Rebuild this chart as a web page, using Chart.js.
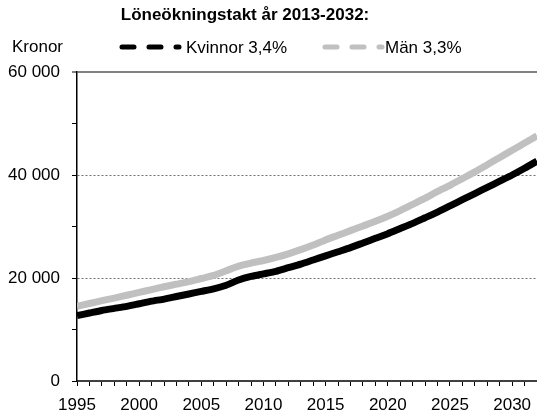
<!DOCTYPE html>
<html>
<head>
<meta charset="utf-8">
<script src="https://cdn.jsdelivr.net/npm/chart.js@4.4.1/dist/chart.umd.min.js"></script>
<style>
    html, body { margin: 0; padding: 0; background: #fff; }
    #wrap { width: 537px; height: 417px; position: relative; }
</style>
</head>
<body>
<div id="wrap"><canvas id="salaryChart"></canvas></div>
<script>
// Data
const years = [];
for (let y = 1995; y <= 2032; y++) years.push(y);

const kvinnor = [12700, 13200, 13700, 14100, 14500, 15000, 15500, 15900, 16400, 16900,
                 17400, 17900, 18600, 19600, 20300, 20800, 21300, 22000, 22700, 23500,
                 24300, 25100, 25900, 26800, 27700, 28600, 29600, 30600, 31700, 32800,
                 34000, 35200, 36400, 37600, 38800, 40000, 41300, 42700];
const man = [14500, 15050, 15600, 16100, 16650, 17200, 17750, 18300, 18800, 19300,
             19900, 20500, 21400, 22300, 22900, 23400, 24000, 24700, 25500, 26400,
             27400, 28300, 29200, 30100, 31000, 32000, 33100, 34300, 35500, 36800,
             38000, 39300, 40600, 42000, 43400, 44800, 46200, 47600];

const seriesLabels = ['Kvinnor 3,4%', 'Män 3,3%'];
const titleText = 'Löneökningstakt år 2013-2032:';
const unitText = 'Kronor';
const yLabelValues = [0, 20000, 40000, 60000];
const xLabelStep = 5;

const FONT = '"Liberation Sans", Arial, sans-serif';

function formatThousands(v) {
    return String(v).replace(/\B(?=(\d{3})+(?!\d))/g, ' ');
}

// title, unit and the dashed legend keys
const headerPlugin = {
    id: 'header',
    afterDraw(chart) {
        const ctx = chart.ctx;
        ctx.save();
        ctx.fillStyle = '#000';
        ctx.textBaseline = 'middle';

        ctx.font = 'bold 17px ' + FONT;
        ctx.textAlign = 'center';
        ctx.fillText(titleText, 245, 15);

        ctx.font = '17px ' + FONT;
        ctx.textAlign = 'left';
        ctx.fillText(unitText, 12, 47);

        const keys = [
            { x: 122, textX: 186 },
            { x: 325, textX: 385 }
        ];
        chart.data.datasets.forEach((ds, i) => {
            const k = keys[i];
            ctx.save();
            ctx.strokeStyle = ds.borderColor;
            ctx.lineWidth = 5;
            ctx.lineCap = 'round';
            ctx.setLineDash([12, 15]);
            ctx.beginPath();
            ctx.moveTo(k.x, 47);
            ctx.lineTo(k.x + 57, 47);
            ctx.stroke();
            ctx.restore();
            ctx.fillText(ds.label, k.textX, 48);
        });
        ctx.restore();
    }
};

const ctx = document.getElementById('salaryChart');

new Chart(ctx, {
    type: 'line',
    data: {
        datasets: [{
            label: seriesLabels[0],
            data: years.map((y, i) => ({ x: y, y: kvinnor[i] })),
            borderColor: '#000000',
            borderWidth: 7,
            pointRadius: 0,
            tension: 0.2,
            fill: false
        }, {
            label: seriesLabels[1],
            data: years.map((y, i) => ({ x: y, y: man[i] })),
            borderColor: '#c0c0c0',
            borderWidth: 7,
            pointRadius: 0,
            tension: 0.2,
            fill: false
        }]
    },
    options: {
        responsive: true,
        maintainAspectRatio: false,
        animation: false,
        layout: {
            padding: { top: 72, left: 0, right: 0, bottom: 0 }
        },
        plugins: {
            legend: { display: false },
            title: { display: false },
            tooltip: { enabled: false }
        },
        scales: {
            x: {
                type: 'linear',
                min: years[0],
                max: years[years.length - 1],
                afterFit: (scale) => {
                    scale.height = 36;
                    scale.paddingRight = 0;
                },
                border: { color: '#404040', width: 2 },
                grid: {
                    drawOnChartArea: false,
                    tickLength: 5,
                    tickColor: '#000',
                    tickWidth: 1
                },
                ticks: {
                    stepSize: 1,
                    autoSkip: false,
                    maxRotation: 0,
                    padding: 9,
                    color: '#000',
                    font: { family: FONT, size: 17 },
                    callback: (v) => (v % xLabelStep === 0 ? String(v) : '')
                }
            },
            y: {
                min: 0,
                max: 60000,
                afterFit: (scale) => { scale.width = 77; },
                border: {
                    color: '#000',
                    width: 1.5,
                    dash: (c) => (c.tick && c.tick.value === 60000 ? [] : [2, 2])
                },
                grid: {
                    color: (c) => {
                        const v = c.tick ? c.tick.value : null;
                        if (v === 60000) return '#808080';
                        if (v === 20000 || v === 40000) return '#707070';
                        return 'rgba(0,0,0,0)';
                    },
                    lineWidth: (c) => (c.tick && c.tick.value === 60000 ? 2 : 1),
                    tickLength: 5,
                    tickColor: '#000',
                    tickWidth: 1
                },
                ticks: {
                    stepSize: 10000,
                    padding: 12,
                    color: '#000',
                    font: { family: FONT, size: 17 },
                    callback: (v) => (yLabelValues.includes(v) ? formatThousands(v) : '')
                }
            }
        }
    },
    plugins: [headerPlugin]
});
</script>
</body>
</html>
